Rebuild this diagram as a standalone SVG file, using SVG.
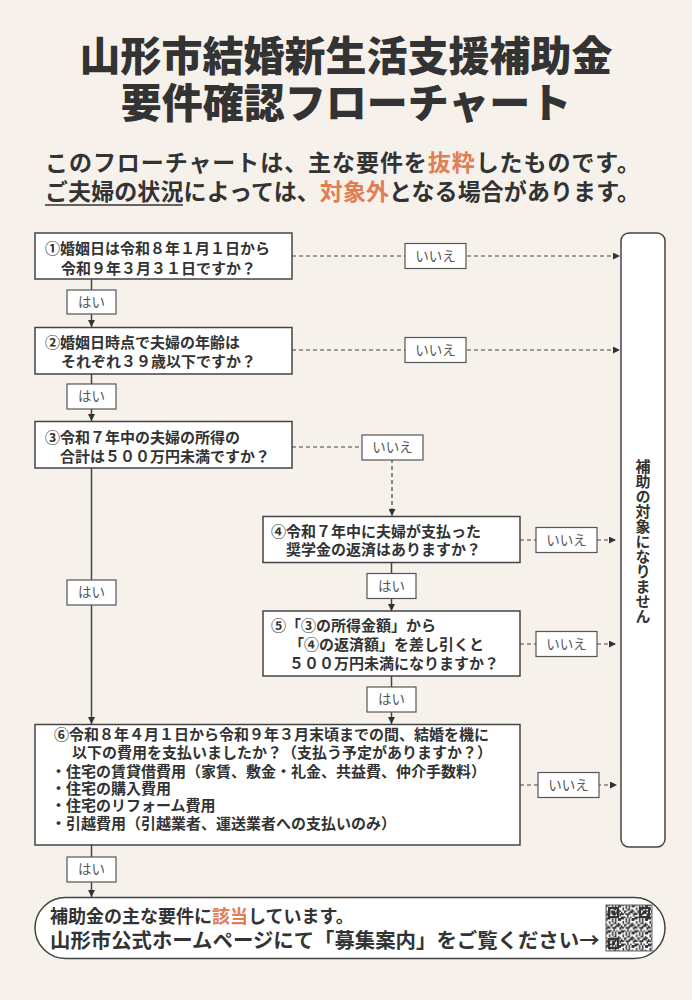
<svg xmlns="http://www.w3.org/2000/svg" width="692" height="1000" viewBox="0 0 692 1000">
  <style>
    text { font-family: 'Noto Sans CJK JP', 'Noto Sans', sans-serif; fill: #333; }
    .title { font-size: 41px; font-weight: 900; text-anchor: middle; }
    .sub { font-size: 23px; font-weight: 700; }
    .q { font-size: 15px; font-weight: 700; }
    .box { fill: #fff; stroke: #444; stroke-width: 1.5; }
    .lbl { fill: #fff; stroke: #555; stroke-width: 1.2; }
    .lt { font-size: 13.5px; fill: #555; text-anchor: middle; }
    .solid { stroke: #444; stroke-width: 1.5; fill: none; }
    .dash { stroke: #444; stroke-width: 1.2; fill: none; stroke-dasharray: 4 3; }
    .acc { fill: #e27d55; }
  </style>
  <defs>
    <marker id="arr" viewBox="0 0 8 8" refX="8" refY="4" markerWidth="7" markerHeight="7" markerUnits="userSpaceOnUse" orient="auto">
      <path d="M0,0 L8,4 L0,8 z" fill="#333"/>
    </marker>
    <pattern id="qrp" width="9" height="9" patternUnits="userSpaceOnUse" patternTransform="scale(1.5)">
      <rect width="9" height="9" fill="#fff"/>
      <path d="M0,0h2v1h-2zM3,0h1v2h-1zM5,0h1v1h-1zM7,0h2v2h-2zM5,1h1v2h-1zM1,2h1v2h-1zM4,3h2v1h-2zM0,5h1v2h-1zM2,4h2v1h-2zM3,6h3v1h-3zM6,4h1v2h-1zM2,5h1v1h-1zM7,3h1v3h-1zM8,6h1v2h-1zM0,8h3v1h-3zM4,7h1v2h-1zM6,8h1v1h-1zM1,6h1v1h-1zM3,2h1v1h-1zM8,4h1v1h-1zM5,5h1v1h-1z" fill="#333"/>
    </pattern>
  </defs>
  <rect width="692" height="1000" fill="#f6f2eb"/>

  <g id="title">
    <text class="title" x="346" y="71">山形市結婚新生活支援補助金</text>
    <text class="title" x="346" y="118">要件確認フローチャート</text>
  </g>
  <g id="subtitle">
    <text class="sub" x="45" y="171" textLength="595" lengthAdjust="spacing">このフローチャートは、主な要件を<tspan class="acc">抜粋</tspan>したものです。</text>
    <text class="sub" x="45" y="200" textLength="595" lengthAdjust="spacing">ご夫婦の状況によっては、<tspan class="acc">対象外</tspan>となる場合があります。</text>
    <line x1="45" y1="205" x2="183" y2="205" stroke="#333" stroke-width="1.5"/>
  </g>

  <g id="connectors">
    <line class="solid" x1="91.5" y1="279" x2="91.5" y2="327" marker-end="url(#arr)"/>
    <line class="solid" x1="91.5" y1="374" x2="91.5" y2="421" marker-end="url(#arr)"/>
    <line class="solid" x1="91.5" y1="468" x2="91.5" y2="724" marker-end="url(#arr)"/>
    <line class="solid" x1="391.5" y1="563" x2="391.5" y2="611" marker-end="url(#arr)"/>
    <line class="solid" x1="391.5" y1="676" x2="391.5" y2="724" marker-end="url(#arr)"/>
    <line class="solid" x1="91.5" y1="845" x2="91.5" y2="897" marker-end="url(#arr)"/>
    <line class="dash" x1="292" y1="256" x2="620" y2="256" marker-end="url(#arr)"/>
    <line class="dash" x1="292" y1="350" x2="620" y2="350" marker-end="url(#arr)"/>
    <path class="dash" d="M292,447 H392 V516" marker-end="url(#arr)"/>
    <line class="dash" x1="520" y1="540" x2="616" y2="540" marker-end="url(#arr)"/>
    <line class="dash" x1="520" y1="644" x2="616" y2="644" marker-end="url(#arr)"/>
    <line class="dash" x1="520" y1="785" x2="617" y2="785" marker-end="url(#arr)"/>
    <g>
      <rect class="lbl" x="67" y="290" width="49" height="24"/><text class="lt" x="91.5" y="306.5">はい</text>
      <rect class="lbl" x="67" y="384" width="49" height="25"/><text class="lt" x="91.5" y="401">はい</text>
      <rect class="lbl" x="67" y="580" width="49" height="25"/><text class="lt" x="91.5" y="597">はい</text>
      <rect class="lbl" x="367" y="573.5" width="49" height="25"/><text class="lt" x="391.5" y="590.5">はい</text>
      <rect class="lbl" x="367" y="687" width="49" height="25"/><text class="lt" x="391.5" y="704">はい</text>
      <rect class="lbl" x="67" y="857" width="49" height="25"/><text class="lt" x="91.5" y="874">はい</text>
    </g>
    <g>
      <rect class="lbl" x="405" y="243.5" width="61" height="25"/><text class="lt" x="435.5" y="260.5">いいえ</text>
      <rect class="lbl" x="405" y="337.5" width="61" height="25"/><text class="lt" x="435.5" y="354.5">いいえ</text>
      <rect class="lbl" x="362" y="435" width="61" height="25"/><text class="lt" x="392.5" y="452">いいえ</text>
      <rect class="lbl" x="536" y="527.5" width="61" height="25"/><text class="lt" x="566.5" y="544.5">いいえ</text>
      <rect class="lbl" x="536" y="631.5" width="61" height="25"/><text class="lt" x="566.5" y="648.5">いいえ</text>
      <rect class="lbl" x="538" y="772.5" width="61" height="25"/><text class="lt" x="568.5" y="789.5">いいえ</text>
    </g>
  </g>

  <g id="q1">
    <rect class="box" x="35" y="233" width="257" height="46"/>
    <text class="q" x="45" y="254">①婚姻日は令和８年１月１日から</text>
    <text class="q" x="61" y="273.5">令和９年３月３１日ですか？</text>
  </g>
  <g id="q2">
    <rect class="box" x="35" y="327.5" width="257" height="46.5"/>
    <text class="q" x="45" y="347.5">②婚姻日時点で夫婦の年齢は</text>
    <text class="q" x="61" y="366.5">それぞれ３９歳以下ですか？</text>
  </g>
  <g id="q3">
    <rect class="box" x="35" y="421.5" width="257" height="46.5"/>
    <text class="q" x="45" y="443">③令和７年中の夫婦の所得の</text>
    <text class="q" x="60" y="462">合計は５００万円未満ですか？</text>
  </g>
  <g id="q4">
    <rect class="box" x="263" y="516.5" width="257" height="46"/>
    <text class="q" x="271" y="536.5">④令和７年中に夫婦が支払った</text>
    <text class="q" x="286" y="554.5">奨学金の返済はありますか？</text>
  </g>
  <g id="q5">
    <rect class="box" x="263" y="611" width="257" height="65"/>
    <text class="q" x="271" y="630.5">⑤「③の所得金額」から</text>
    <text class="q" x="289" y="649.5">「④の返済額」を差し引くと</text>
    <text class="q" x="289" y="668.5">５００万円未満になりますか？</text>
  </g>
  <g id="q6">
    <rect class="box" x="35" y="724.5" width="485" height="120.5"/>
    <text class="q" x="54" y="740">⑥令和８年４月１日から令和９年３月末頃までの間、結婚を機に</text>
    <text class="q" x="72" y="758">以下の費用を支払いましたか？（支払う予定がありますか？）</text>
    <text class="q" x="51" y="777">・住宅の賃貸借費用（家賃、敷金・礼金、共益費、仲介手数料）</text>
    <text class="q" x="51" y="794">・住宅の購入費用</text>
    <text class="q" x="51" y="811">・住宅のリフォーム費用</text>
    <text class="q" x="51" y="829">・引越費用（引越業者、運送業者への支払いのみ）</text>
  </g>
  <g id="not-eligible">
    <rect class="box" x="621" y="233" width="44" height="614" rx="8"/>
    <text class="q" x="643" y="541" style="writing-mode: vertical-rl; text-anchor: middle;">補助の対象になりません</text>
  </g>
  <g id="eligible">
    <rect class="box" x="35" y="897.5" width="630" height="61" rx="30.5"/>
    <text x="50" y="923" style="font-size:18px;font-weight:700;">補助金の主な要件に<tspan class="acc">該当</tspan>しています。</text>
    <text x="50" y="948" style="font-size:20.4px;font-weight:700;">山形市公式ホームページにて「募集案内」をご覧ください→</text>
    <rect x="606" y="905" width="46" height="46" fill="url(#qrp)" stroke="#666" stroke-width="1"/>
    <g fill="#333">
      <path d="M608,907h11v11h-11z M610,909v7h7v-7z M612,911h3v3h-3z" fill-rule="evenodd"/>
      <path d="M639,907h11v11h-11z M641,909v7h7v-7z M643,911h3v3h-3z" fill-rule="evenodd"/>
      <path d="M608,938h11v11h-11z M610,940v7h7v-7z M612,942h3v3h-3z" fill-rule="evenodd"/>
    </g>
  </g>
</svg>
